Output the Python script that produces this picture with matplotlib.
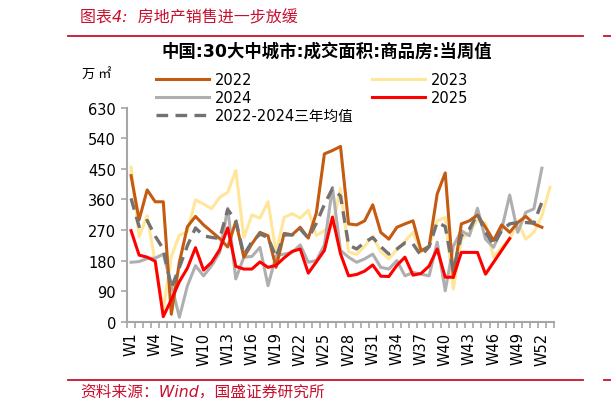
import numpy as np
import matplotlib.pyplot as plt
from matplotlib.lines import Line2D

plt.rcParams['font.family'] = ['DejaVu Sans', 'Noto Sans CJK SC']

# weekly transaction area, 30 large & mid cities (万㎡)
y2022 = [430, 300, 388, 353, 353, 22, 175, 280, 310, 285, 265, 245, 220, 295,
         190, 229, 263, 253, 160, 260, 256, 278, 246, 320, 494, 504, 516, 288,
         285, 297, 344, 263, 243, 278, 288, 297, 209, 222, 376, 438, 130, 288,
         297, 314, 278, 239, 285, 263, 292, 310, 288, 278]
y2023 = [455, 250, 312, 175, 35, 192, 255, 265, 359, 346, 333, 366, 381, 445,
         248, 314, 305, 353, 205, 307, 318, 305, 328, 254, 268, 283, 392, 206,
         198, 222, 252, 206, 185, 213, 237, 263, 205, 221, 297, 307, 96, 243,
         263, 300, 290, 190, 219, 243, 293, 243, 263, 312, 396]
y2024 = [175, 177, 186, 187, 199, 110, 13, 106, 165, 135, 165, 204, 334, 126,
         190, 192, 219, 106, 194, 199, 204, 226, 175, 180, 226, 395, 210, 190,
         175, 185, 199, 160, 155, 180, 135, 145, 140, 135, 234, 91, 222, 268,
         253, 334, 243, 219, 272, 373, 263, 322, 332, 452]
y2025 = [268, 196, 190, 178, 15, 65, 118, 158, 218, 152, 175, 212, 276, 163,
         155, 155, 176, 160, 166, 188, 207, 214, 143, 176, 210, 308, 200, 135,
         139, 149, 167, 134, 133, 166, 190, 137, 142, 164, 214, 131, 131, 204,
         204, 204, 140, 175, 210, 245]
y_avg = [363, 280, 298, 252, 214, 100, 160, 224, 276, 253, 248, 245, 330, 298,
         197, 235, 258, 248, 190, 256, 255, 273, 246, 290, 345, 392, 370, 226,
         214, 234, 248, 221, 199, 214, 232, 229, 194, 221, 293, 280, 150, 253,
         273, 317, 263, 226, 268, 288, 292, 292, 290, 352]

n_weeks = 53
tick_weeks = [1, 4, 7, 10, 13, 16, 19, 22, 25, 28, 31, 34, 37, 40, 43, 46, 49, 52]
tick_labels = ['W1', 'W4', 'W7', 'W10', 'W13', 'W16', 'W19', 'W22', 'W25',
               'W28', 'W31', 'W34', 'W37', 'W40', 'W43', 'W46', 'W49', 'W52']
y_ticks = [0, 90, 180, 270, 360, 450, 540, 630]

RED = '#C8102E'
AXIS_GRAY = '#A6A6A6'

fig = plt.figure(figsize=(6.11, 4.10), dpi=100)
ax = fig.add_axes([0.2079, 0.2129, 0.6988, 0.522])

ax.plot(np.arange(len(y2023)), y2023, color='#FFE699', lw=2.2, label='2023', zorder=2)
ax.plot(np.arange(len(y2024)), y2024, color='#AFAFAF', lw=2.2, label='2024', zorder=3)
ax.plot(np.arange(len(y2022)), y2022, color='#C55A11', lw=2.2, label='2022', zorder=4)
ax.plot(np.arange(len(y_avg)), y_avg, color='#767171', lw=2.4, ls=(0, (3.5, 2.2)),
        label='2022-2024三年均值', zorder=5)
ax.plot(np.arange(len(y2025)), y2025, color='#FF0000', lw=2.2, label='2025', zorder=6)

ax.set_xlim(-0.5, n_weeks - 0.5)
ax.set_ylim(0, 630)
ax.set_yticks(y_ticks)
ax.tick_params(axis='y', labelsize=10.5, length=4, width=1.2, color=AXIS_GRAY, pad=4)

ax.set_xticks([w - 1 for w in tick_weeks])
ax.set_xticklabels(tick_labels, rotation=90, fontsize=10.5)
ax.set_xticks(np.arange(n_weeks + 1) - 0.5, minor=True)
ax.tick_params(axis='x', which='major', length=0, pad=7)
ax.tick_params(axis='x', which='minor', length=4, width=1.2, color=AXIS_GRAY)

for side in ['top', 'right']:
    ax.spines[side].set_visible(False)
for side in ['left', 'bottom']:
    ax.spines[side].set_color(AXIS_GRAY)
    ax.spines[side].set_linewidth(1.5)

h, l = ax.get_legend_handles_labels()
order = [2, 1, 3, 0, 4]
ax.legend([h[i] for i in order], [l[i] for i in order], ncol=2, frameon=False,
          fontsize=10.5, loc='upper left', bbox_to_anchor=(0.055, 1.195),
          handlelength=3.6, handletextpad=0.4, labelspacing=0.2, columnspacing=1.3,
          borderaxespad=0)

fig.text(0.535, 0.873, '中国:30大中城市:成交面积:商品房:当周值', ha='center', va='center',
         fontsize=12.5, fontweight='bold')
fig.text(0.135, 0.818, '万 ㎡', fontsize=9.5, va='center',
         family=['Noto Sans CJK SC', 'DejaVu Sans'])

fig.text(0.131, 0.956, '图表4:  房地产销售进一步放缓', fontsize=11.5, color=RED,
         va='center', style='italic')
fig.text(0.131, 0.044, '资料来源：Wind，国盛证券研究所', fontsize=11.3, color=RED,
         va='center', style='italic')

for yy in [1 - 37 / 410, 1 - 381 / 410]:
    fig.add_artist(Line2D([68 / 611, 583 / 611], [yy, yy], transform=fig.transFigure,
                          color=RED, lw=1.3))
    fig.add_artist(Line2D([604 / 611, 1.0], [yy, yy], transform=fig.transFigure,
                          color=RED, lw=1.3))

fig.savefig('out.png', dpi=100)
